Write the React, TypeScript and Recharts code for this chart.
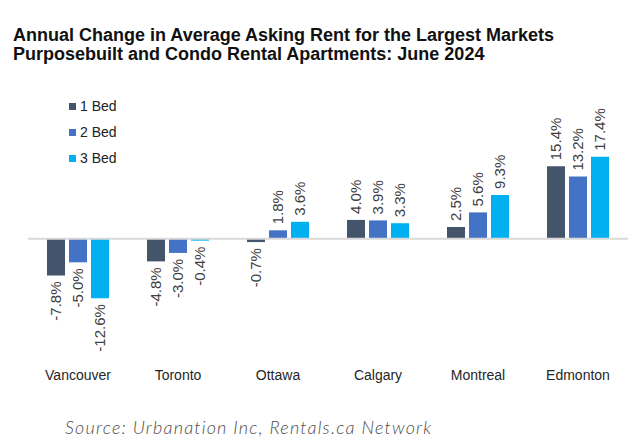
import { BarChart, Bar, XAxis, YAxis, ReferenceLine, LabelList } from "recharts";

const cities = ["Vancouver", "Toronto", "Ottawa", "Calgary", "Montreal", "Edmonton"];
const oneBed = [-7.8, -4.8, -0.7, 4.0, 2.5, 15.4];
const twoBed = [-5.0, -3.0, 1.8, 3.9, 5.6, 13.2];
const threeBed = [-12.6, -0.4, 3.6, 3.3, 9.3, 17.4];

const series = [
  { key: "oneBed", name: "1 Bed", color: "#44546A" },
  { key: "twoBed", name: "2 Bed", color: "#4472C4" },
  { key: "threeBed", name: "3 Bed", color: "#00B0F0" },
];

const chartData = cities.map((city, i) => ({
  city,
  oneBed: oneBed[i],
  twoBed: twoBed[i],
  threeBed: threeBed[i],
}));

const font = "'Liberation Sans', Arial, sans-serif";

// rotated value label, above positive bars and below negative ones
// eslint-disable-next-line @typescript-eslint/no-explicit-any
const renderLabel = (props: any) => {
  const { x, y, width, height, value } = props;
  const v = Number(value);
  const cx = Number(x) + Number(width) / 2;
  const top = Math.min(Number(y), Number(y) + Number(height));
  const bottom = Math.max(Number(y), Number(y) + Number(height));
  const pos = v >= 0;
  const ty = pos ? top - 6 : bottom + 6;
  return (
    <text
      x={cx}
      y={ty}
      dy="0.35em"
      transform={`rotate(-90 ${cx} ${ty})`}
      textAnchor={pos ? "start" : "end"}
      fill="#404040"
      fontSize={15}
      fontFamily={font}
    >
      {v.toFixed(1) + "%"}
    </text>
  );
};

export default function App() {
  return (
    <div
      style={{
        position: "absolute",
        left: 0,
        top: 0,
        width: 640,
        height: 446,
        background: "#fff",
        fontFamily: font,
      }}
    >
      <div
        style={{
          position: "absolute",
          left: 13,
          top: 26,
          fontSize: 18,
          lineHeight: "19px",
          fontWeight: "bold",
          color: "#111",
          whiteSpace: "nowrap",
        }}
      >
        Annual Change in Average Asking Rent for the Largest Markets
        <br />
        Purposebuilt and Condo Rental Apartments: June 2024
      </div>

      <BarChart
        width={640}
        height={446}
        data={chartData}
        margin={{ top: 121, right: 12, bottom: 83, left: 28 }}
        barSize={18}
        barGap={4}
      >
        <XAxis
          dataKey="city"
          height={30}
          axisLine={false}
          tickLine={false}
          tickSize={0}
          tickMargin={37}
          interval={0}
          tick={{ fill: "#262626", fontSize: 14, fontFamily: font }}
        />
        <YAxis hide domain={[-20, 25]} />
        <ReferenceLine y={0} stroke="#D9D9D9" strokeWidth={2} />
        {series.map((s) => (
          <Bar
            key={s.key}
            dataKey={s.key}
            name={s.name}
            fill={s.color}
            isAnimationActive={false}
          >
            <LabelList dataKey={s.key} content={renderLabel} />
          </Bar>
        ))}
      </BarChart>

      <div style={{ position: "absolute", left: 69, top: 96 }}>
        {series.map((s) => (
          <div
            key={s.key}
            style={{
              display: "flex",
              alignItems: "center",
              height: 20,
              marginBottom: 6,
              fontSize: 14,
              color: "#222",
            }}
          >
            <span
              style={{
                width: 7,
                height: 7,
                background: s.color,
                marginRight: 4,
                display: "inline-block",
              }}
            />
            {s.name}
          </div>
        ))}
      </div>

      <div
        style={{
          position: "absolute",
          left: 65,
          top: 417,
          fontSize: 18,
          lineHeight: "20px",
          fontStyle: "italic",
          fontWeight: 300,
          letterSpacing: 1.2,
          fontFamily: "Lato, 'Open Sans', sans-serif",
          color: "#4d4d4d",
          whiteSpace: "nowrap",
        }}
      >
        Source: Urbanation Inc, Rentals.ca Network
      </div>
    </div>
  );
}
